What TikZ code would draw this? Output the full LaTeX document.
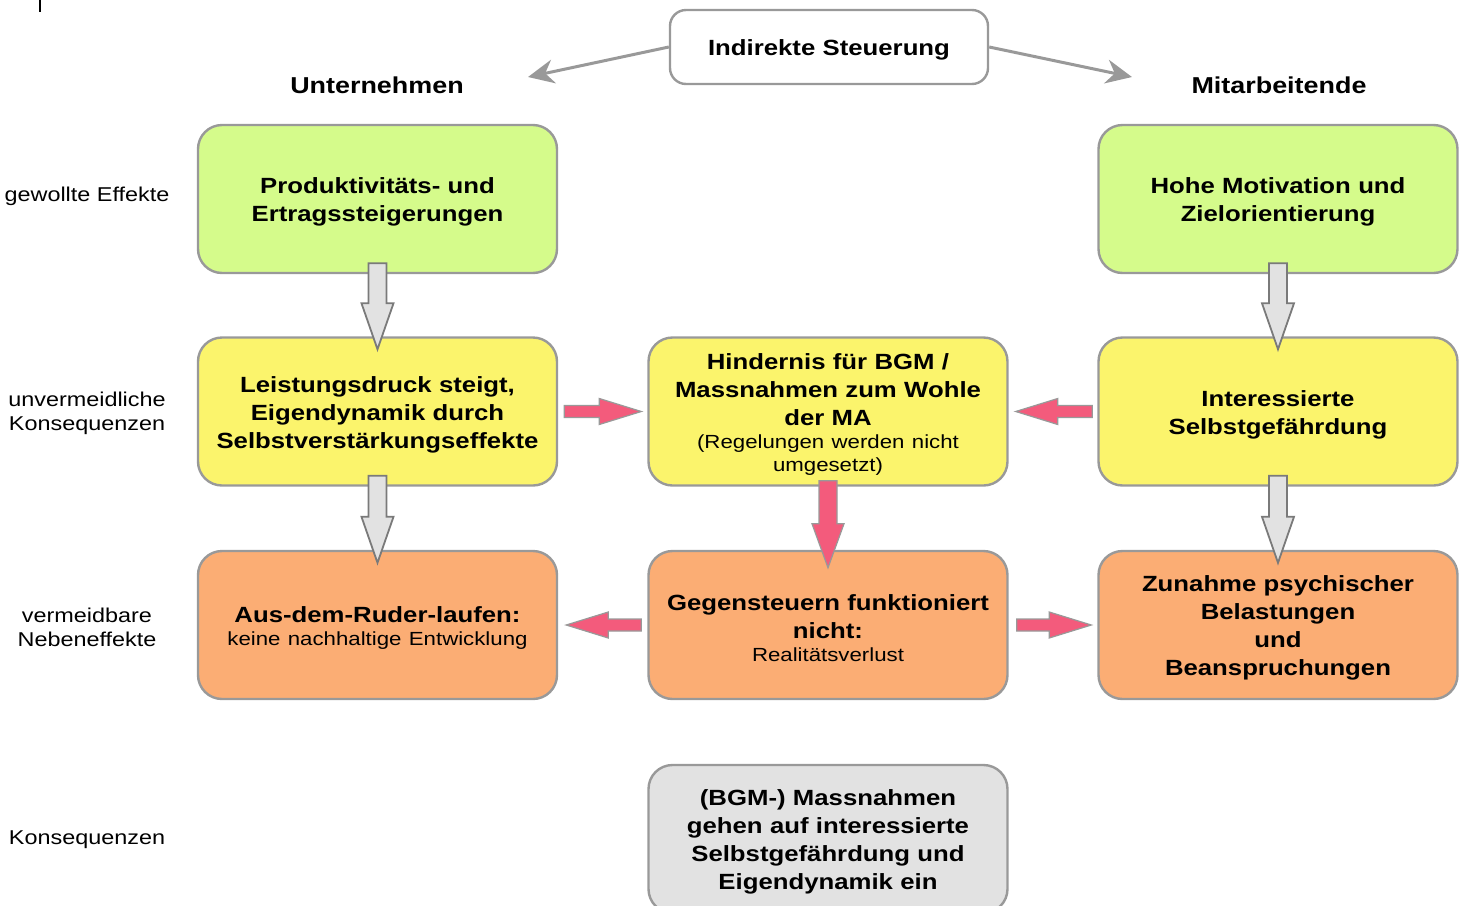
\documentclass[tikz,border=0pt]{standalone}
\usepackage{fontspec}
\setmainfont{Liberation Sans}[FakeStretch=1.17]
\usetikzlibrary{calc,arrows.meta}
\definecolor{boxgreen}{HTML}{D5FB8B}
\definecolor{boxyellow}{HTML}{FBF46C}
\definecolor{boxorange}{HTML}{FBAD74}
\definecolor{boxgray}{HTML}{E2E2E2}
\definecolor{linegray}{HTML}{999999}
\definecolor{arrowpink}{HTML}{F35B7C}
\newcommand\boldtxt{\fontsize{11}{14}\selectfont\bfseries}
\newcommand\smalltxt{\fontsize{9.5}{11.5}\selectfont\mdseries}
% fat arrow: style, from, tip, half shaft, half head, head length
\newcommand\fatarrow[6]{%
	\coordinate (fa-h) at ($(#3)!#6!(#2)$);
	\draw[#1] ($(#2)!#4!90:(#3)$) -- ($(fa-h)!#4!90:(#3)$) -- ($(fa-h)!#5!90:(#3)$) -- (#3)
	  -- ($(fa-h)!#5!-90:(#3)$) -- ($(fa-h)!#4!-90:(#3)$) -- ($(#2)!#4!-90:(#3)$) -- cycle;}
\tikzset{
	stepbox/.style={draw=linegray, line width=1.2pt, rounded corners=12pt, minimum width=179.5pt,
	  minimum height=74pt, text width=172pt, align=center, font=\boldtxt, inner sep=0pt,
	  execute at begin node={\rule{0pt}{11pt}}},
	rowlabel/.style={align=center, font=\fontsize{10}{12}\selectfont},
	headlabel/.style={font=\fontsize{11.5}{14}\selectfont\bfseries},
	grayblock/.style={fill=boxgray, draw=linegray!80!black, line width=0.9pt},
	pinkblock/.style={fill=arrowpink, draw=linegray, line width=0.6pt},
	thinarrow/.style={linegray, line width=1.5pt, -{Stealth[length=13pt, width=12pt]}}
}
\begin{document}
\begin{tikzpicture}[x=0.5pt, y=-0.5pt]
	\useasboundingbox (0,0) rectangle (1464,906);
	\clip (0,0) rectangle (1464,906);
	\draw[black, line width=0.8pt] (40,0) -- (40,12);
	% top
	\node[stepbox, fill=white, minimum width=159pt, minimum height=37pt, text width=150pt, rounded corners=8pt] (steu) at (829,47) {Indirekte Steuerung};
	\node[headlabel] (unt) at (377,85) {Unternehmen};
	\node[headlabel] (mit) at (1279,85) {Mitarbeitende};
	\coordinate (lefttip) at (528,77);
	\coordinate (righttip) at (1132,77);
	\draw[thinarrow] (steu.west) -- (lefttip);
	\draw[thinarrow] (steu.east) -- (righttip);
	% row labels
	\node[rowlabel] (r1) at (87,196) {gewollte Effekte};
	\node[rowlabel] (r2) at (87,413) {unvermeidliche\\Konsequenzen};
	\node[rowlabel] (r3) at (87,627) {vermeidbare\\Nebeneffekte};
	\node[rowlabel] (r4) at (87,840) {Konsequenzen};
	% boxes
	\node[stepbox, fill=boxgreen] (prod) at (377.5,199) {Produktivitäts- und\\ Ertragssteigerungen};
	\node[stepbox, fill=boxgreen] (moti) at (1278,199) {Hohe Motivation und\\ Zielorientierung};
	\node[stepbox, fill=boxyellow] (druck) at (377.5,411.5) {Leistungsdruck steigt,\\ Eigendynamik durch\\ Selbstverstärkungseffekte};
	\node[stepbox, fill=boxyellow] (hind) at (828,411.5) {Hindernis für BGM /\\ Massnahmen zum Wohle\\ der MA\par{\smalltxt (Regelungen werden nicht\\ umgesetzt)\par}};
	\node[stepbox, fill=boxyellow] (selb) at (1278,411.5) {Interessierte\\ Selbstgefährdung};
	\node[stepbox, fill=boxorange] (ruder) at (377.5,625) {Aus-dem-Ruder-laufen:\par{\smalltxt keine nachhaltige Entwicklung\par}};
	\node[stepbox, fill=boxorange] (gegen) at (828,625) {Gegensteuern funktioniert\\ nicht:\par{\smalltxt Realitätsverlust\par}};
	\node[stepbox, fill=boxorange] (bela) at (1278,625) {Zunahme psychischer\\ Belastungen\\ und\\ Beanspruchungen};
	\node[stepbox, fill=boxgray] (mass) at (828,839) {(BGM-) Massnahmen\\ gehen auf interessierte\\ Selbstgefährdung und\\ Eigendynamik ein};
	% arrows
	\fatarrow{grayblock}{[yshift=5.5pt]prod.south}{[yshift=-6.5pt]druck.north}{4.5pt}{8pt}{23pt}
	\fatarrow{grayblock}{[yshift=5.5pt]moti.south}{[yshift=-6.5pt]selb.north}{4.5pt}{8pt}{23pt}
	\fatarrow{grayblock}{[yshift=5.5pt]druck.south}{[yshift=-6.5pt]ruder.north}{4.5pt}{8pt}{23pt}
	\fatarrow{grayblock}{[yshift=5.5pt]selb.south}{[yshift=-6.5pt]bela.north}{4.5pt}{8pt}{23pt}
	\fatarrow{pinkblock}{[xshift=3pt]druck.east}{[xshift=-3pt]hind.west}{3pt}{6.5pt}{21pt}
	\fatarrow{pinkblock}{[xshift=-2.5pt]selb.west}{[xshift=3.5pt]hind.east}{3pt}{6.5pt}{21pt}
	\fatarrow{pinkblock}{[yshift=3pt]hind.south}{[yshift=-9pt]gegen.north}{4.5pt}{8pt}{22pt}
	\fatarrow{pinkblock}{[xshift=-3pt]gegen.west}{[xshift=4pt]ruder.east}{3pt}{6.5pt}{21pt}
	\fatarrow{pinkblock}{[xshift=4pt]gegen.east}{[xshift=-3pt]bela.west}{3pt}{6.5pt}{21pt}
\end{tikzpicture}
\end{document}
